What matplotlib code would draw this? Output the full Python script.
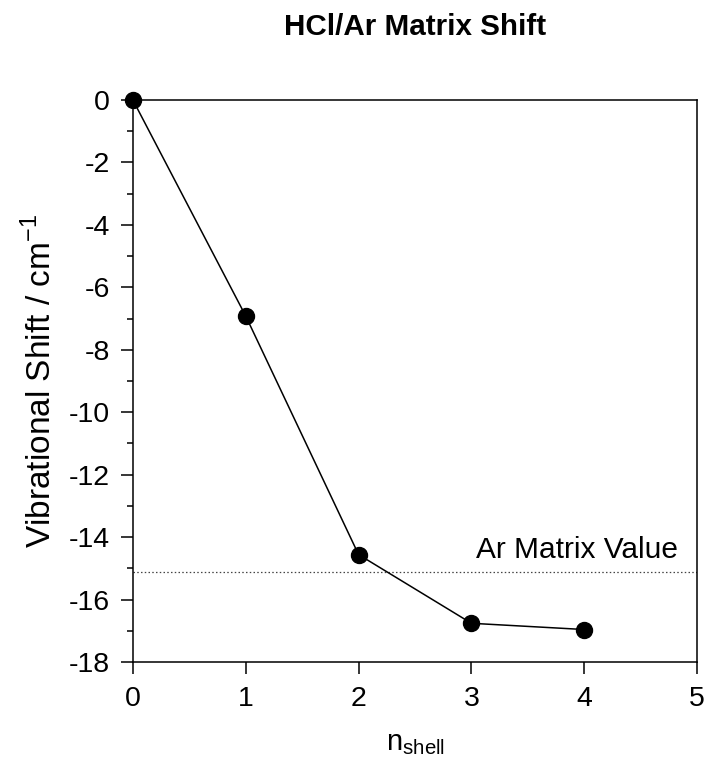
import matplotlib
matplotlib.use("Agg")
import matplotlib.pyplot as plt
from matplotlib.ticker import MultipleLocator

plt.rcParams['font.family'] = ['Liberation Sans', 'DejaVu Sans']
plt.rcParams['axes.unicode_minus'] = False

n_shell = [0, 1, 2, 3, 4]
shift = [0.0, -6.92, -14.56, -16.76, -16.96]
ar_matrix_value = -15.12

fig = plt.figure(figsize=(7.07, 7.73), dpi=100)
ax = fig.add_axes([0.188, 0.1436, 0.798, 0.727])

ax.plot(n_shell, shift, color='black', lw=1.1, marker='o', ms=11.5,
        mfc='black', mec='black', clip_on=False, zorder=3)
ax.axhline(ar_matrix_value, color='#444444', lw=0.9, ls=(0, (1.2, 1.8)))
ax.text(4.83, ar_matrix_value + 0.45, "Ar Matrix Value", fontsize=21.5,
        ha='right', va='baseline')

ax.set_xlim(0, 5)
ax.set_ylim(-18, 0)
ax.xaxis.set_major_locator(MultipleLocator(1))
ax.yaxis.set_major_locator(MultipleLocator(2))
ax.yaxis.set_minor_locator(MultipleLocator(1))
ax.tick_params(which='major', direction='out', length=8.6, width=1.1,
               labelsize=20.5)
ax.tick_params(axis='x', pad=9)
ax.tick_params(axis='y', pad=8)
ax.tick_params(which='minor', direction='out', length=4.3, width=1.1)
for s in ax.spines.values():
    s.set_linewidth(1.1)

ax.set_xlabel(r"n$_{\mathregular{shell}}$", fontsize=21, labelpad=12)
ax.set_ylabel(r"Vibrational Shift / cm$^{\mathregular{-1}}$", fontsize=24,
              labelpad=8)
ax.set_title("HCl/Ar Matrix Shift", fontsize=21.3, fontweight='bold', pad=47)

fig.savefig("out.png", dpi=100)
